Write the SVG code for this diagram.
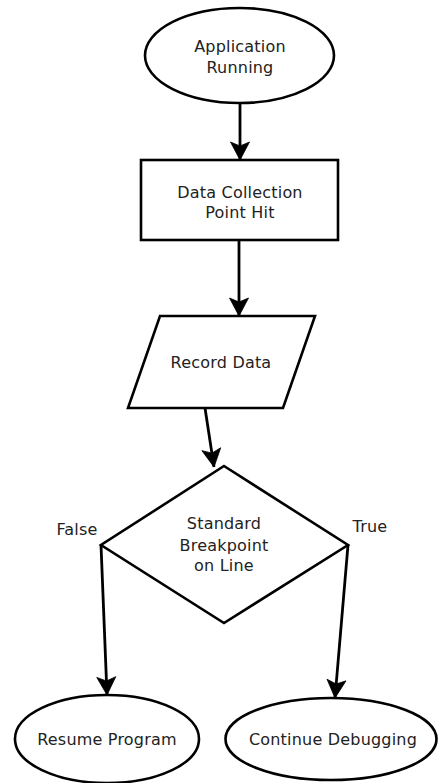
<svg xmlns="http://www.w3.org/2000/svg" width="438" height="783" viewBox="0 0 438 783">
<style>
.s{fill:#fff;stroke:#000;stroke-width:2.6}
.t{font-family:"DejaVu Sans",sans-serif;font-size:16px;fill:#222;text-anchor:middle;letter-spacing:0.2px}
.c{fill:none;stroke:#000;stroke-width:2.8}
</style>
<defs>
<marker id="a" markerUnits="userSpaceOnUse" markerWidth="24" markerHeight="24" viewBox="-21 -12 24 24" refX="0" refY="0" orient="auto">
<path d="M0,0 L-18,-9.5 L-14,0 L-18,9.5 Z" fill="#000" stroke="#000" stroke-width="0.8" stroke-linejoin="miter"/>
</marker>
</defs>
<rect width="438" height="783" fill="#fff"/>
<g id="n1"><ellipse class="s" cx="239.5" cy="55.5" rx="94.5" ry="47.5"/><text class="t" x="240" y="52">Application</text><text class="t" x="240" y="73">Running</text></g>
<g id="n2"><rect class="s" x="141" y="160" width="197" height="80"/><text class="t" x="240" y="198">Data Collection</text><text class="t" x="240" y="218">Point Hit</text></g>
<g id="n3"><polygon class="s" points="160,316 315,316 283,408 128,408"/><text class="t" x="221" y="368">Record Data</text></g>
<g id="n4"><polygon class="s" points="224,466 348,545 224,623 101,545"/><text class="t" x="224" y="529">Standard</text><text class="t" x="224" y="551">Breakpoint</text><text class="t" x="224" y="571">on Line</text></g>
<g id="n5"><ellipse class="s" cx="107" cy="739" rx="92" ry="44"/><text class="t" x="107" y="745">Resume Program</text></g>
<g id="n6"><ellipse class="s" cx="331" cy="739" rx="105.5" ry="41"/><text class="t" x="333" y="745">Continue Debugging</text></g>
<g id="connectors">
<line class="c" x1="240" y1="103" x2="240" y2="160" marker-end="url(#a)"/>
<line class="c" x1="239" y1="240" x2="239" y2="316" marker-end="url(#a)"/>
<line class="c" x1="205" y1="408" x2="214" y2="467" marker-end="url(#a)"/>
<line class="c" x1="101" y1="545" x2="107" y2="695" marker-end="url(#a)"/>
<line class="c" x1="348" y1="545" x2="335" y2="698" marker-end="url(#a)"/>
<text class="t" x="77" y="535">False</text>
<text class="t" x="370" y="532">True</text>
</g>
</svg>
